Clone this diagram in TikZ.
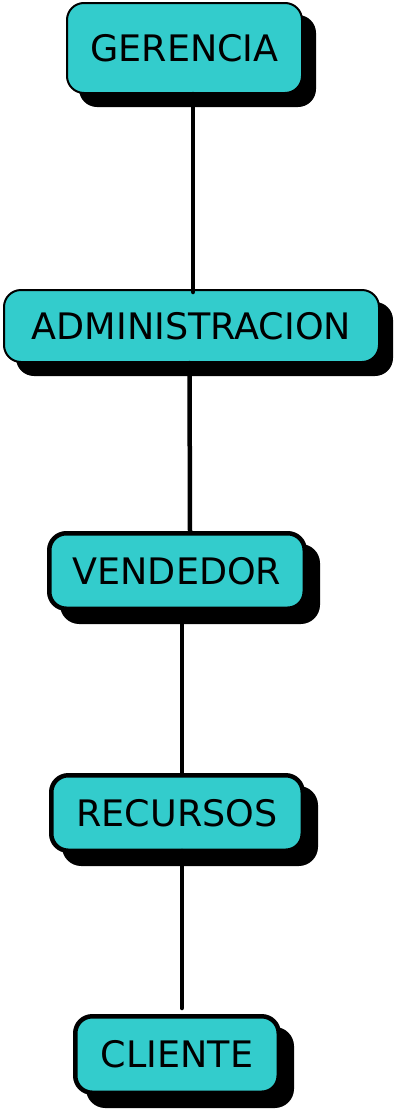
\documentclass[tikz,border=0pt]{standalone}
\usepackage{fontspec}
\setmainfont{DejaVu Sans}
\usepackage{tikz}
\usetikzlibrary{calc}
\usetikzlibrary{shadows}
\definecolor{turq}{RGB}{51,204,204}

\begin{document}
\begin{tikzpicture}[x=1pt, y=1pt,
	box/.style={draw=black, fill=turq, rounded corners=17pt, inner sep=0pt,
		font=\fontsize{36.5}{40}\selectfont},
	thin box/.style={box, line width=2pt,
		drop shadow={shadow xshift=13pt, shadow yshift=-13pt, opacity=1, fill=black, draw=black, line width=2pt}},
	thick box/.style={box, line width=4.5pt,
		drop shadow={shadow xshift=13pt, shadow yshift=-13pt, opacity=1, fill=black, draw=black, line width=4.5pt}},
	link/.style={line width=4.5pt, line cap=round}]
\useasboundingbox (0,0) rectangle (401,-1119);
\node[thin box, minimum width=235pt, minimum height=90pt] (ger) at (184.5,-48) {GERENCIA};
\node[thin box, minimum width=375pt, minimum height=72pt] (adm) at (191.5,-326) {ADMINISTRACION};
\node[thick box, minimum width=255.5pt, minimum height=75.5pt] (vend) at (177,-571) {VENDEDOR};
\node[thick box, minimum width=251.5pt, minimum height=75.5pt] (rec) at (177,-813) {RECURSOS};
\node[thick box, minimum width=203.5pt, minimum height=76.5pt] (cli) at (177,-1054.5) {CLIENTE};
\draw[link] ($(ger.south)+(8.5,0)$) -- ($(adm.north)+(1.5,-3)$);
\draw[link] ($(adm.south)+(-2,0)$) -- ($(vend.north)+(13,0)$);
\draw[link] ($(vend.south)+(5,0)$) -- ($(rec.north)+(5,0)$);
\draw[link] ($(rec.south)+(5,2)$) -- ($(cli.north)+(5,6)$);
\end{tikzpicture}
\end{document}
